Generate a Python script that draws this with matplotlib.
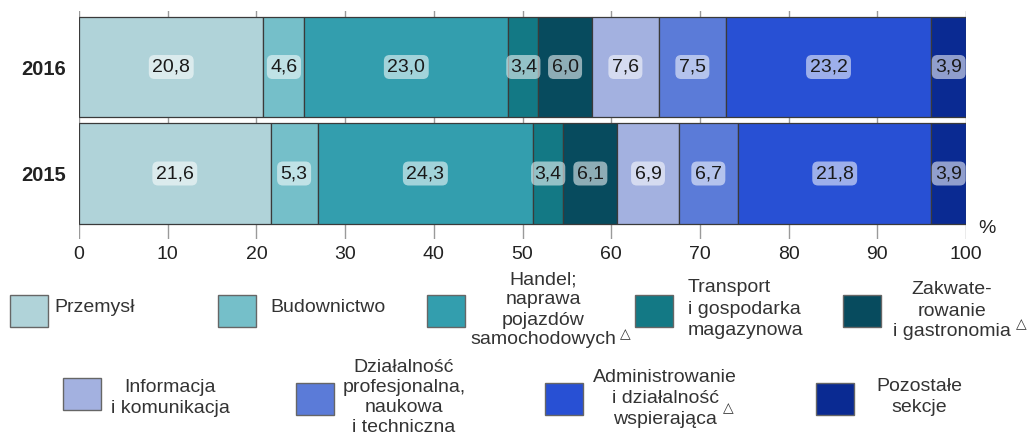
import numpy as np
import matplotlib
matplotlib.use("Agg")
import matplotlib.pyplot as plt
from matplotlib.patches import Rectangle

# ==========================================
# DATA
# ==========================================

years = ["2016", "2015"]

sections = [
    "Przemysł",
    "Budownictwo",
    "Handel;\nnaprawa\npojazdów\nsamochodowych",
    "Transport\ni gospodarka\nmagazynowa",
    "Zakwate-\nrowanie\ni gastronomia",
    "Informacja\ni komunikacja",
    "Działalność\nprofesjonalna,\nnaukowa\ni techniczna",
    "Administrowanie\ni działalność\nwspierająca",
    "Pozostałe\nsekcje",
]

values_2016 = [20.8, 4.6, 23.0, 3.4, 6.0, 7.6, 7.5, 23.2, 3.9]
values_2015 = [21.6, 5.3, 24.3, 3.4, 6.1, 6.9, 6.7, 21.8, 3.9]

colors = [
    "#b0d3d9", "#75bfc9", "#339eae", "#137985", "#074b5e",
    "#a3b1e0", "#5b7bd8", "#2850d4", "#0a2a92",
]

x_ticks = [0, 10, 20, 30, 40, 50, 60, 70, 80, 90, 100]

# ==========================================
# FIGURE
# ==========================================

plt.rcParams["font.family"] = ["Liberation Sans", "DejaVu Sans"]

W, H = 1029, 440
fig = plt.figure(figsize=(W / 100, H / 100), dpi=100)

ax = fig.add_axes([79 / W, 1 - 239 / H, (966 - 79) / W, (239 - 11) / H])

ypos = [1, 0]
all_values = [values_2016, values_2015]

for y, vals in zip(ypos, all_values):
    left = 0.0
    for v, c in zip(vals, colors):
        ax.barh(y, v, left=left, height=0.94, color=c,
                edgecolor="#3a3a3a", linewidth=0.9, zorder=2)
        ax.text(left + v / 2, y, f"{v:.1f}".replace(".", ","),
                ha="center", va="center", fontsize=14, color="#1a1a1a",
                zorder=4,
                bbox=dict(boxstyle="round,pad=0.18,rounding_size=0.3",
                          facecolor="white", alpha=0.55, edgecolor="none"))
        left += v

ax.set_xlim(0, 100)
ax.set_ylim(-0.615, 1.526)

ax.set_xticks(x_ticks)
ax.set_xticklabels([str(t) for t in x_ticks], fontsize=14, color="#222222")
ax.set_yticks(ypos)
ax.set_yticklabels(years, fontsize=14.5, fontweight="bold", color="#222222")
ax.tick_params(axis="both", length=0)
ax.tick_params(axis="x", pad=5)
ax.tick_params(axis="y", pad=9)

ax.grid(axis="x", color="#9a9a9a", linewidth=1.0, zorder=0)
ax.set_axisbelow(True)
for s in ax.spines.values():
    s.set_visible(False)

fig.text(987 / W, 1 - 228 / H, "%", fontsize=14, color="#222222",
         ha="center", va="center")

# ==========================================
# LEGEND (manual layout, pixel positions)
# ==========================================

# box left x, box centre y, text x, text centre y, text alignment
legend_layout = [
    (10, 311, 54, 307, "left"),
    (218, 311, 270, 308, "left"),
    (427, 311, 543, 310, "center"),
    (635, 311, 688, 309, "left"),
    (843, 311, 952, 311, "center"),
    (63, 394, 170, 398, "center"),
    (296, 399, 404, 397, "center"),
    (545, 399, 665, 398, "center"),
    (816, 399, 919, 397, "center"),
]

box_w, box_h = 38, 32
line_px = 21.0

for label, c, (bx, by, tx, ty, ha) in zip(sections, colors, legend_layout):
    fig.add_artist(Rectangle((bx / W, 1 - (by + box_h / 2) / H),
                             box_w / W, box_h / H,
                             transform=fig.transFigure,
                             facecolor=c, edgecolor="#666666", linewidth=1.0))
    lines = label.split("\n")
    n = len(lines)
    step = line_px if n < 4 else 20.0
    for i, line in enumerate(lines):
        ly = ty + (i - (n - 1) / 2) * step
        fig.text(tx / W, 1 - ly / H, line, fontsize=14, color="#333333",
                 ha=ha, va="center")

# triangle markers after some labels
for px, py in [(625, 334), (1021, 324), (728, 408)]:
    fig.text(px / W, 1 - py / H, "\u25b3", fontsize=10, color="#333333",
             ha="center", va="center")

fig.savefig("out.png", dpi=100)
